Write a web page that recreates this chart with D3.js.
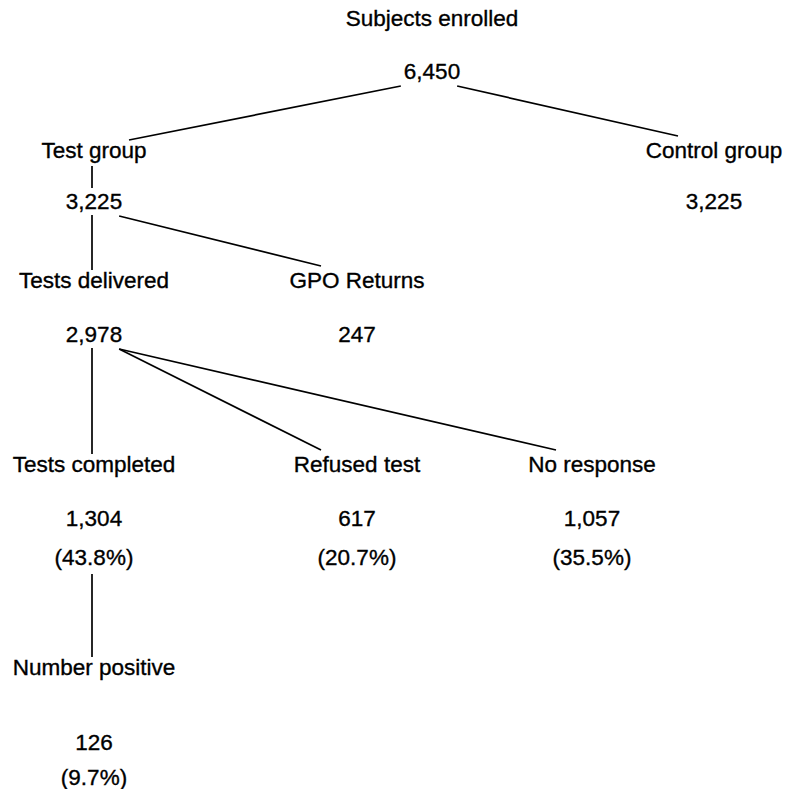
<!DOCTYPE html>
<html lang="en">

<head>
    <meta charset="UTF-8">
    <title>Subjects enrolled - flow</title>
    <script src="https://d3js.org/d3.v7.min.js"></script>
    <style>
        body {
            margin: 0;
            background: #fff;
        }

        text {
            font-family: "Liberation Sans", Arial, sans-serif;
            font-size: 22.5px;
            fill: #000;
            stroke: #000;
            stroke-width: 0.35;
        }

        line.link {
            stroke: #000;
            stroke-width: 1.7;
        }
    </style>
</head>

<body>
    <svg width="786" height="789" id="flow-svg"></svg>

    <script>
        // Data
        const labels = ["Subjects enrolled", "Test group", "Control group", "Tests delivered", "GPO Returns",
            "Tests completed", "Refused test", "No response", "Number positive"];
        const counts = ["6,450", "3,225", "3,225", "2,978", "247", "1,304", "617", "1,057", "126"];
        const percents = [null, null, null, null, null, "(43.8%)", "(20.7%)", "(35.5%)", "(9.7%)"];
        const parents = [-1, 0, 0, 1, 1, 3, 3, 3, 5];
        const levels = [0, 1, 1, 2, 2, 3, 3, 3, 4];
        const columns = [2, 0, 4, 0, 1, 0, 1, 3, 0];
        // nodes that have a rule between their label and their count
        const joined = ["Test group"];

        const svg = d3.select("#flow-svg");

        // layout scales (column centres, row baselines)
        const x = d3.scaleOrdinal().domain([0, 1, 2, 3, 4]).range([94, 357, 432, 592, 714]);
        const labelY = d3.scaleOrdinal().domain([0, 1, 2, 3, 4]).range([26, 158, 288, 472, 675]);
        const countY = d3.scaleOrdinal().domain([0, 1, 2, 3, 4]).range([79, 209, 342, 526, 750]);
        const pctY = d3.scaleOrdinal().domain([0, 1, 2, 3, 4]).range([0, 0, 0, 565, 785]);

        const nodes = labels.map((name, i) => ({
            i,
            name,
            count: counts[i],
            pct: percents[i],
            parent: parents[i],
            cx: x(columns[i]),
            ly: labelY(levels[i]),
            cy: countY(levels[i]),
            py: pctY(levels[i])
        }));

        const g = svg.append("g");

        // node texts
        const nodeG = g.selectAll("g.node")
            .data(nodes)
            .enter().append("g")
            .attr("class", "node");

        nodeG.append("text")
            .attr("class", "label")
            .attr("x", d => d.cx)
            .attr("y", d => d.ly)
            .attr("text-anchor", "middle")
            .text(d => d.name);

        nodeG.append("text")
            .attr("class", "count")
            .attr("x", d => d.cx)
            .attr("y", d => d.cy)
            .attr("text-anchor", "middle")
            .text(d => d.count);

        nodeG.filter(d => d.pct)
            .append("text")
            .attr("x", d => d.cx)
            .attr("y", d => d.py)
            .attr("text-anchor", "middle")
            .text(d => d.pct);

        // measure number widths so the links can start at their edges
        nodeG.each(function (d) {
            const box = d3.select(this).select("text.count").node().getBBox();
            d.cLeft = box.x;
            d.cRight = box.x + box.width;
        });

        // build link segments
        const segs = [];
        nodes.forEach(d => {
            if (joined.includes(d.name)) {
                segs.push({ x1: d.cx - 2, y1: d.ly + 8, x2: d.cx - 2, y2: d.cy - 21 });
            }
            if (d.parent < 0) return;
            const p = nodes[d.parent];
            const bottom = p.pct ? p.py + 9 : p.cy + 6;
            if (columns[d.i] === columns[p.i]) {
                // straight down
                segs.push({ x1: p.cx - 2, y1: bottom, x2: d.cx - 2, y2: d.ly - 18 });
            } else {
                const right = d.cx > p.cx;
                segs.push({
                    x1: right ? p.cRight - 3 : p.cLeft - 3,
                    y1: p.cy + 7,
                    x2: right ? d.cx - 36 : d.cx + 35,
                    y2: d.ly - (right ? 22 : 18)
                });
            }
        });

        g.selectAll("line.link")
            .data(segs)
            .enter().append("line")
            .attr("class", "link")
            .attr("x1", d => d.x1)
            .attr("y1", d => d.y1)
            .attr("x2", d => d.x2)
            .attr("y2", d => d.y2);
    </script>
</body>

</html>
